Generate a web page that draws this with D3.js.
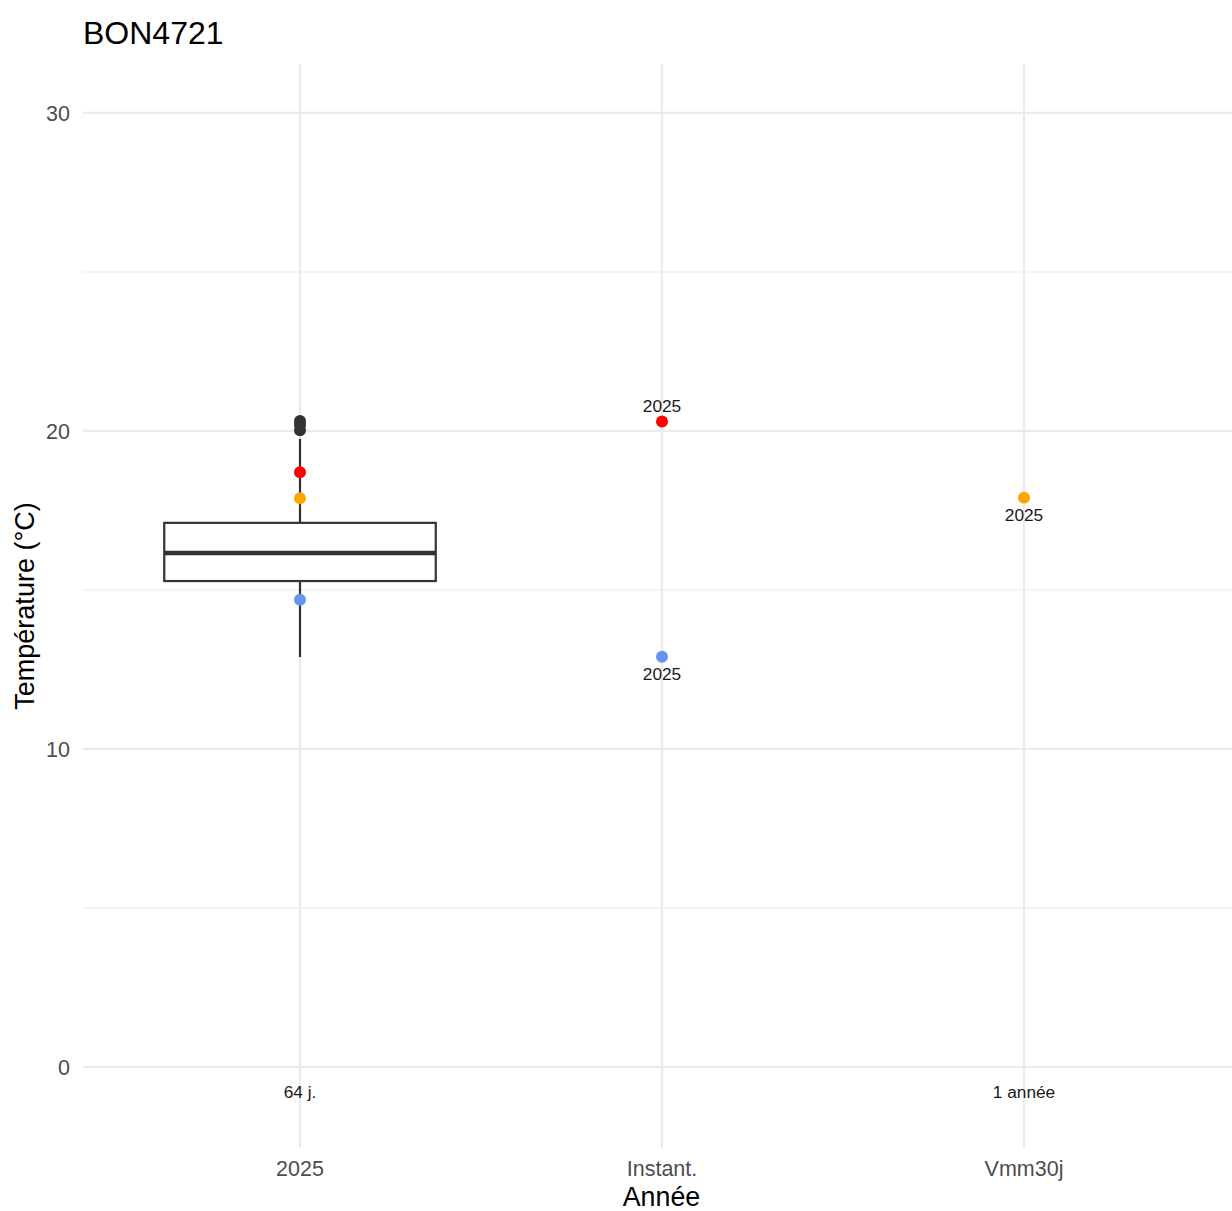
<!DOCTYPE html>
<html><head><meta charset="utf-8">
<script src="https://cdn.jsdelivr.net/npm/d3@7"></script>
<style>body{margin:0;background:#fff;}svg{display:block;font-family:"Liberation Sans",Arial,sans-serif;}</style>
</head><body>
<script>
const title = "BON4721";
const categories = ["2025", "Instant.", "Vmm30j"];
const yTicks = [0, 10, 20, 30];
const yMinor = [5, 15, 25];
// box stats for 2025 (°C)
const boxStats = [{cat: "2025", lower: 12.89, q1: 15.28, median: 16.16, q3: 17.11, upper: 19.75}];
const outliers = [{cat: "2025", v: 20.02}, {cat: "2025", v: 20.19}, {cat: "2025", v: 20.31}];
// coloured points
const points = [
  {cat: "2025", v: 18.70, color: "#ff0000"},
  {cat: "2025", v: 17.88, color: "#ffa500"},
  {cat: "2025", v: 14.69, color: "#6495ed"},
  {cat: "Instant.", v: 20.30, color: "#ff0000"},
  {cat: "Instant.", v: 12.90, color: "#6495ed"},
  {cat: "Vmm30j", v: 17.90, color: "#ffa500"}
];
const pointLabels = [
  {cat: "Instant.", v: 20.30, text: "2025", pos: "above"},
  {cat: "Instant.", v: 12.90, text: "2025", pos: "below"},
  {cat: "Vmm30j", v: 17.90, text: "2025", pos: "below"}
];
const periodLabels = [
  {cat: "2025", v: -0.8, text: "64 j."},
  {cat: "Vmm30j", v: -0.8, text: "1 année"}
];

const W = 1232, H = 1211;
const svg = d3.select("body").append("svg").attr("width", W).attr("height", H);
const panel = {left: 83, right: 1232, top: 64, bottom: 1148};

const y = d3.scaleLinear().domain([-2.55, 31.54]).range([panel.bottom, panel.top]);
const xi = d3.scaleLinear().domain([-0.6, 2.6]).range([82.8, 1241.2]);
const x = c => xi(categories.indexOf(c));
const step = xi(1) - xi(0);

const g = svg.append("g");

// grid
g.selectAll(".minor").data(yMinor).join("line")
  .attr("x1", panel.left).attr("x2", panel.right).attr("y1", d => y(d)).attr("y2", d => y(d))
  .attr("stroke", "#ebebeb").attr("stroke-width", 1.1);
g.selectAll(".major").data(yTicks).join("line")
  .attr("x1", panel.left).attr("x2", panel.right).attr("y1", d => y(d)).attr("y2", d => y(d))
  .attr("stroke", "#ebebeb").attr("stroke-width", 2.2);
g.selectAll(".xmajor").data(categories).join("line")
  .attr("x1", d => x(d)).attr("x2", d => x(d)).attr("y1", panel.top).attr("y2", panel.bottom)
  .attr("stroke", "#ebebeb").attr("stroke-width", 2.2);

// boxplot
const bw = step * 0.75;
const bx = g.selectAll(".box").data(boxStats).join("g");
bx.append("line").attr("x1", d => x(d.cat)).attr("x2", d => x(d.cat))
  .attr("y1", d => y(d.upper)).attr("y2", d => y(d.q3)).attr("stroke", "#333").attr("stroke-width", 2.2);
bx.append("line").attr("x1", d => x(d.cat)).attr("x2", d => x(d.cat))
  .attr("y1", d => y(d.q1)).attr("y2", d => y(d.lower)).attr("stroke", "#333").attr("stroke-width", 2.2);
bx.append("rect").attr("x", d => x(d.cat) - bw / 2).attr("width", bw)
  .attr("y", d => y(d.q3)).attr("height", d => y(d.q1) - y(d.q3))
  .attr("fill", "#fff").attr("stroke", "#333").attr("stroke-width", 2.2);
bx.append("line").attr("x1", d => x(d.cat) - bw / 2).attr("x2", d => x(d.cat) + bw / 2)
  .attr("y1", d => y(d.median)).attr("y2", d => y(d.median)).attr("stroke", "#333").attr("stroke-width", 4.4);

g.selectAll(".out").data(outliers).join("circle")
  .attr("cx", d => x(d.cat)).attr("cy", d => y(d.v)).attr("r", 6).attr("fill", "#333");

g.selectAll(".pt").data(points).join("circle")
  .attr("cx", d => x(d.cat)).attr("cy", d => y(d.v)).attr("r", 6).attr("fill", d => d.color);

g.selectAll(".plab").data(pointLabels).join("text")
  .attr("x", d => x(d.cat)).attr("y", d => y(d.v) + (d.pos === "above" ? -9 : 23))
  .attr("text-anchor", "middle").attr("font-size", 17.3).attr("fill", "#1a1a1a").text(d => d.text);

g.selectAll(".perlab").data(periodLabels).join("text")
  .attr("x", d => x(d.cat)).attr("y", d => y(d.v)).attr("dy", "0.35em")
  .attr("text-anchor", "middle").attr("font-size", 17.3).attr("fill", "#1a1a1a").text(d => d.text);

// axes labels
g.selectAll(".ytl").data(yTicks).join("text")
  .attr("x", 70).attr("y", d => y(d)).attr("dy", "0.36em").attr("text-anchor", "end")
  .attr("font-size", 21.5).attr("fill", "#4d4d4d").text(d => d);
g.selectAll(".xtl").data(categories).join("text")
  .attr("x", d => x(d)).attr("y", 1176).attr("text-anchor", "middle")
  .attr("font-size", 21.5).attr("fill", "#4d4d4d").text(d => d);

svg.append("text").attr("x", (panel.left + panel.right) / 2 + 4).attr("y", 1206).attr("text-anchor", "middle")
  .attr("font-size", 26.8).attr("fill", "#000").text("Année");
svg.append("text").attr("transform", `translate(34,${(panel.top + panel.bottom) / 2}) rotate(-90)`)
  .attr("text-anchor", "middle").attr("font-size", 27).attr("fill", "#000").text("Température (°C)");
svg.append("text").attr("x", 83).attr("y", 44).attr("font-size", 32).attr("fill", "#000").text(title);
</script>
</body></html>
